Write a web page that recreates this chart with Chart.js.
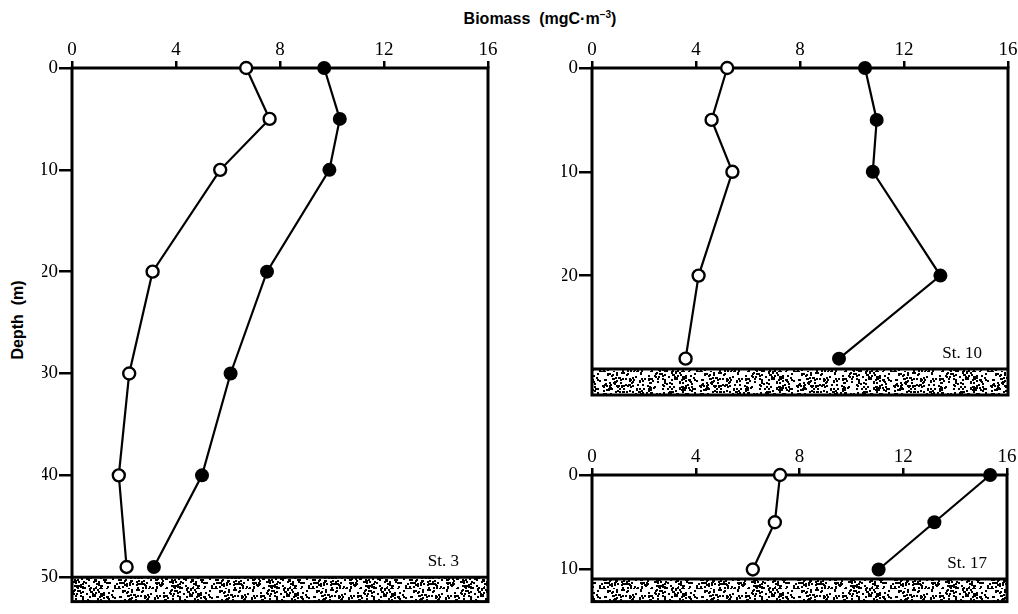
<!DOCTYPE html>
<html lang="en">
<head>
<meta charset="UTF-8">
<title>Biomass profiles St. 3, St. 10, St. 17</title>
<script src="https://cdn.jsdelivr.net/npm/chart.js"></script>
<style>
    body {
        margin: 0;
        background: #fff;
        width: 1018px;
        height: 614px;
        overflow: hidden;
        position: relative;
    }
    canvas {
        position: absolute;
        left: 0;
        top: 0;
    }
    .title {
        position: absolute;
        font-family: "Liberation Sans", Arial, sans-serif;
        font-weight: bold;
        font-size: 16px;
        color: #000;
        white-space: pre;
    }
    #xTitle {
        left: 540px;
        top: 9px;
        transform: translateX(-50%);
    }
    #yTitle {
        left: 18px;
        top: 320px;
        transform: translate(-50%, -50%) rotate(-90deg);
    }
    sup {
        font-size: 10px;
    }
</style>
</head>
<body>

<div class="title" id="xTitle">Biomass  (mgC·m<sup>−3</sup>)</div>
<div class="title" id="yTitle">Depth  (m)</div>

<canvas id="st3" width="1018" height="614"></canvas>
<canvas id="st10" width="1018" height="614"></canvas>
<canvas id="st17" width="1018" height="614"></canvas>

<script>
    // biomass axis (top)
    const biomassTicks = [0, 4, 8, 12, 16];

    // St. 3
    const st3Depth = [0, 5, 10, 20, 30, 40, 49];
    const st3Open = [6.7, 7.6, 5.7, 3.1, 2.2, 1.8, 2.1];
    const st3Filled = [9.7, 10.3, 9.9, 7.5, 6.1, 5.0, 3.15];
    const st3DepthTicks = [0, 10, 20, 30, 40, 50];
    const st3Bottom = 50;

    // St. 10
    const st10Depth = [0, 5, 10, 20, 28];
    const st10Open = [5.2, 4.6, 5.4, 4.1, 3.6];
    const st10Filled = [10.5, 10.95, 10.8, 13.4, 9.5];
    const st10DepthTicks = [0, 10, 20];
    const st10Bottom = 29;

    // St. 17
    const st17Depth = [0, 5, 10];
    const st17Open = [7.25, 7.05, 6.2];
    const st17Filled = [15.35, 13.2, 11.05];
    const st17DepthTicks = [0, 10];
    const st17Bottom = 11;

    // stippled sediment texture: dot positions from a fixed integer hash
    function makeStipple() {
        const c = document.createElement('canvas');
        c.width = 97;
        c.height = 31;
        const g = c.getContext('2d');
        g.fillStyle = '#fff';
        g.fillRect(0, 0, c.width, c.height);
        g.fillStyle = '#000';
        for (let i = 0; i < 320; i++) {
            let h = Math.imul(i + 1, 0x9E3779B1);
            h ^= h >>> 15;
            h = Math.imul(h, 0x85EBCA77);
            h ^= h >>> 13;
            h >>>= 0;
            const x = h % c.width;
            const y = (h >>> 10) % c.height;
            g.fillRect(x, y, 2, 2);
        }
        return c;
    }
    const stippleCanvas = makeStipple();

    const bedPlugin = {
        id: 'bed',
        beforeDatasetsDraw(chart, args, opts) {
            const ctx = chart.ctx;
            const a = chart.chartArea;
            const top = chart.scales.y.getPixelForValue(opts.bottom);
            ctx.save();
            ctx.fillStyle = ctx.createPattern(stippleCanvas, 'repeat');
            ctx.fillRect(a.left, top, a.right - a.left, a.bottom - top);
            ctx.strokeStyle = '#000';
            ctx.lineWidth = 3;
            ctx.strokeRect(a.left, a.top, a.right - a.left, a.bottom - a.top);
            ctx.beginPath();
            ctx.moveTo(a.left, top);
            ctx.lineTo(a.right, top);
            ctx.stroke();
            ctx.font = '17px "Liberation Serif", serif';
            ctx.textAlign = 'right';
            ctx.fillStyle = '#000';
            ctx.fillText(opts.label, a.right - opts.labelGap, top - 11);
            ctx.restore();
        }
    };

    const serif = { family: '"Liberation Serif", "DejaVu Serif", serif', size: 19 };

    function profileChart(id, label, depth, open, filled, depthTicks, bottom, box) {
        const toPoints = vals => vals.map((v, i) => ({ x: v, y: depth[i] }));
        return new Chart(document.getElementById(id), {
            type: 'scatter',
            data: {
                datasets: [{
                    data: toPoints(open),
                    showLine: true,
                    borderColor: '#000',
                    borderWidth: 2.2,
                    pointRadius: 6,
                    pointBorderWidth: 2.4,
                    pointBackgroundColor: '#fff',
                    pointBorderColor: '#000',
                    clip: false
                }, {
                    data: toPoints(filled),
                    showLine: true,
                    borderColor: '#000',
                    borderWidth: 2.2,
                    pointRadius: 7,
                    pointBorderWidth: 0,
                    pointBackgroundColor: '#000',
                    clip: false
                }]
            },
            options: {
                responsive: false,
                animation: false,
                events: [],
                layout: { padding: box.padding },
                plugins: {
                    legend: { display: false },
                    tooltip: { enabled: false },
                    bed: { bottom: bottom, label: label, labelGap: box.labelGap }
                },
                scales: {
                    x: {
                        type: 'linear',
                        position: 'top',
                        min: 0,
                        max: 16,
                        afterBuildTicks: s => { s.ticks = biomassTicks.map(v => ({ value: v })); },
                        afterFit: s => { s.height = 30; },
                        ticks: { font: serif, color: '#000', padding: 0, maxRotation: 0 },
                        grid: { drawOnChartArea: false, tickLength: 7, color: '#000', lineWidth: 2.5 },
                        border: { display: false }
                    },
                    y: {
                        type: 'linear',
                        reverse: true,
                        min: 0,
                        max: box.maxDepth,
                        afterBuildTicks: s => { s.ticks = depthTicks.map(v => ({ value: v })); },
                        afterFit: s => { s.width = 30; },
                        ticks: { font: serif, color: '#000', padding: 1 },
                        grid: { drawOnChartArea: false, tickLength: 13, color: '#000', lineWidth: 2.5 },
                        border: { display: false }
                    }
                }
            },
            plugins: [bedPlugin]
        });
    }

    profileChart('st3', 'St. 3', st3Depth, st3Open, st3Filled, st3DepthTicks, st3Bottom, {
        padding: { left: 42, top: 38, right: 530, bottom: 2 },
        maxDepth: 52.4,
        labelGap: 29
    });

    profileChart('st10', 'St. 10', st10Depth, st10Open, st10Filled, st10DepthTicks, st10Bottom, {
        padding: { left: 562, top: 38, right: 10, bottom: 219 },
        maxDepth: 31.5,
        labelGap: 26
    });

    profileChart('st17', 'St. 17', st17Depth, st17Open, st17Filled, st17DepthTicks, st17Bottom, {
        padding: { left: 562, top: 445, right: 11, bottom: 2 },
        maxDepth: 13.4,
        labelGap: 20
    });
</script>

</body>
</html>
